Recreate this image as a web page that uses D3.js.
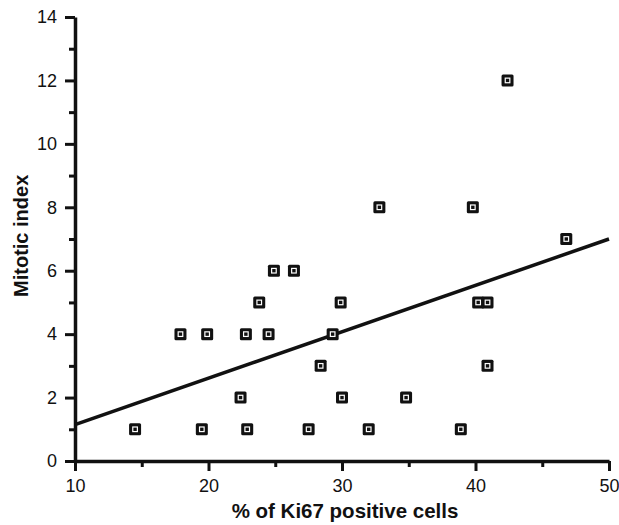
<!DOCTYPE html>
<html>
<head>
<meta charset="utf-8">
<script src="https://cdn.jsdelivr.net/npm/d3@7"></script>
<style>
  body { margin: 0; background: #fff; }
  svg text { font-family: "Liberation Sans", Arial, sans-serif; fill: #111; }
</style>
</head>
<body>
<div id="chart"></div>
<script>
// % Ki67 positive cells vs mitotic index
const ki67 = [14.5, 19.5, 22.9, 27.5, 32.0, 38.9,
              22.4, 30.0, 34.8,
              28.4, 40.9,
              17.9, 19.9, 22.8, 24.5, 29.3,
              23.8, 29.9, 40.2, 40.9,
              24.9, 26.4,
              32.8, 39.8,
              46.8, 42.4];
const mitotic = [1, 1, 1, 1, 1, 1,
                 2, 2, 2,
                 3, 3,
                 4, 4, 4, 4, 4,
                 5, 5, 5, 5,
                 6, 6,
                 8, 8,
                 7, 12];

// regression line end points
const fitX = [10, 50];
const fitY = [1.15, 7.0];

const xTicks = [10, 20, 30, 40, 50];
const xMinor = [15, 25, 35, 45];
const yTicks = [0, 2, 4, 6, 8, 10, 12, 14];
const yMinor = [1, 3, 5, 7, 9, 11, 13];

const W = 619, H = 525;
const margin = { top: 17, right: 10, bottom: 64, left: 75 };

const svg = d3.select("#chart").append("svg")
    .attr("width", W)
    .attr("height", H);

const x = d3.scaleLinear().domain([10, 50]).range([margin.left, 609]);
const y = d3.scaleLinear().domain([0, 14]).range([461, margin.top]);

// minor ticks first, majors drawn on top
svg.append("g")
    .attr("transform", "translate(0," + y(0) + ")")
    .call(d3.axisBottom(x).tickValues(xMinor).tickSize(6).tickFormat(""))
    .call(g => g.select(".domain").remove())
    .selectAll("line").attr("stroke", "#111").attr("stroke-width", 3);

svg.append("g")
    .attr("transform", "translate(" + x(10) + ",0)")
    .call(d3.axisLeft(y).tickValues(yMinor).tickSize(6).tickFormat(""))
    .call(g => g.select(".domain").remove())
    .selectAll("line").attr("stroke", "#111").attr("stroke-width", 3);

const xAxis = svg.append("g")
    .attr("transform", "translate(0," + y(0) + ")")
    .call(d3.axisBottom(x).tickValues(xTicks).tickSize(10).tickSizeOuter(0).tickPadding(8));
xAxis.select(".domain").attr("stroke", "#111").attr("stroke-width", 3.5);
xAxis.selectAll(".tick line").attr("stroke", "#111").attr("stroke-width", 3);
xAxis.selectAll(".tick text").style("font-size", "18px").attr("fill", "#111");

const yAxis = svg.append("g")
    .attr("transform", "translate(" + x(10) + ",0)")
    .call(d3.axisLeft(y).tickValues(yTicks).tickSize(10).tickSizeOuter(0).tickPadding(8));
yAxis.select(".domain").attr("stroke", "#111").attr("stroke-width", 3.5);
yAxis.selectAll(".tick line").attr("stroke", "#111").attr("stroke-width", 3);
yAxis.selectAll(".tick text").style("font-size", "18px").attr("fill", "#111");

// regression line
svg.append("line")
    .attr("x1", x(fitX[0])).attr("y1", y(fitY[0]))
    .attr("x2", x(fitX[1])).attr("y2", y(fitY[1]))
    .attr("stroke", "#111")
    .attr("stroke-width", 3.5);

// markers: black square with small white square inside
const pts = svg.append("g").selectAll("g")
    .data(ki67.map((k, i) => ({ k: k, m: mitotic[i] })))
    .enter().append("g")
    .attr("transform", d => "translate(" + x(d.k) + "," + y(d.m) + ")");

pts.append("rect")
    .attr("x", -6).attr("y", -6)
    .attr("width", 12).attr("height", 12)
    .attr("rx", 1.5)
    .attr("fill", "#111");

pts.append("rect")
    .attr("x", -2.3).attr("y", -2.3)
    .attr("width", 4.6).attr("height", 4.6)
    .attr("fill", "none")
    .attr("stroke", "#fff")
    .attr("stroke-width", 1.2);

// axis titles
svg.append("text")
    .attr("x", (x(10) + x(50)) / 2 + 3)
    .attr("y", 518)
    .attr("text-anchor", "middle")
    .style("font-size", "20.5px")
    .style("font-weight", "bold")
    .text("% of Ki67 positive cells");

svg.append("text")
    .attr("transform", "translate(28," + y(7.1) + ") rotate(-90)")
    .attr("text-anchor", "middle")
    .style("font-size", "20px")
    .style("font-weight", "bold")
    .text("Mitotic index");
</script>
</body>
</html>
